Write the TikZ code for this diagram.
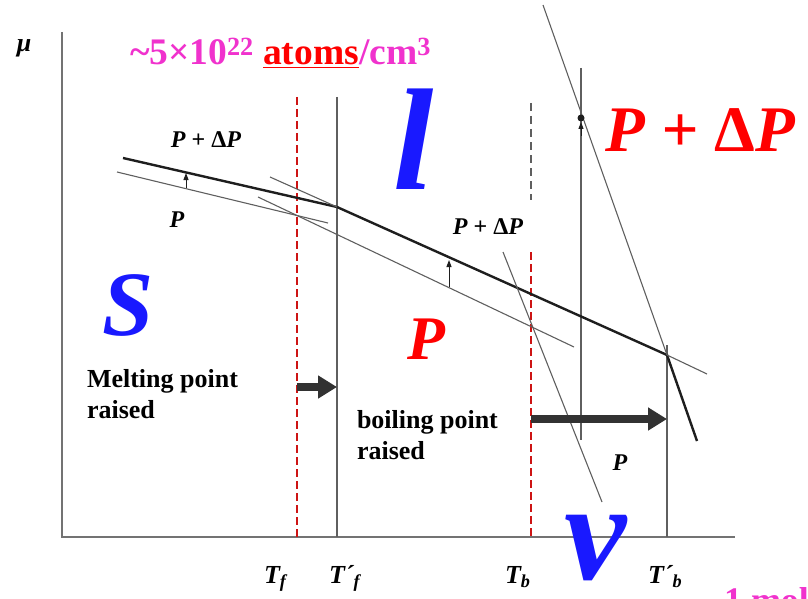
\documentclass[tikz,border=0pt]{standalone}
\usepackage{fontspec}
\setmainfont{Liberation Serif}
\usetikzlibrary{arrows.meta}
\definecolor{colorblue}{RGB}{25,25,255}
\definecolor{colorred}{RGB}{255,0,0}
\definecolor{colorpink}{RGB}{240,50,205}
\definecolor{colordash}{RGB}{205,20,20}
\definecolor{colorline}{RGB}{30,30,30}
\definecolor{colorthin}{RGB}{95,95,95}
\definecolor{colorarrow}{RGB}{50,50,50}
\newcommand{\bi}[1]{\textbf{\textit{#1}}}
\newcommand{\fsz}[1]{\fontsize{#1}{#1}\selectfont}

\begin{document}
\begin{tikzpicture}[x=1pt,y=-1pt,every node/.style={inner sep=0pt, outer sep=0pt},
  axis/.style={color=gray!90!black, line width=1.3pt},
  curve/.style={color=colorline, line width=2.4pt},
  metaline/.style={color=colorthin, line width=1.1pt},
  redline/.style={color=colordash, line width=2pt, dash pattern=on 8pt off 4pt},
  fatarrow/.style={color=colorarrow, line width=8pt, -{Triangle[length=19pt,width=22pt]}},
  tinyarrow/.style={color=colorline, line width=1pt, -{Triangle[length=7pt,width=5pt]}},
  lab/.style={font=\bfseries\itshape\fsz{24}},
  tlab/.style={font=\bfseries\itshape\fsz{26}, anchor=base west},
  note/.style={font=\bfseries\fontsize{26}{31}\selectfont, align=left, anchor=north west},
  bigletter/.style={font=\bfseries\itshape\fsz{#1}}]

\useasboundingbox (0,0) rectangle (808,599);

% axes
\coordinate (origin) at (62,537);
\coordinate (mutop) at (62,32);
\coordinate (xend) at (735,537);
\draw[axis] (mutop) -- (origin) -- (xend);
\node[font=\bfseries\itshape\fsz{26}] (mu) at (24,48) {μ};

% transition temperatures
\coordinate (tf top) at (297,97);    \coordinate (tf bot) at (297,537);
\coordinate (tfp top) at (337,97);   \coordinate (tfp bot) at (337,537);
\coordinate (tb gray) at (531,103);  \coordinate (tb gap) at (531,200);
\coordinate (tb top) at (531,252);   \coordinate (tb bot) at (531,537);
\coordinate (mid top) at (581,68);   \coordinate (mid bot) at (581,440);
\coordinate (tbp top) at (667,345);  \coordinate (tbp bot) at (667,537);
\draw[redline] (tf top) -- (tf bot);
\draw[metaline] (tfp top) -- (tfp bot);
\draw[metaline, dash pattern=on 8pt off 5pt] (tb gray) -- (tb gap);
\draw[redline] (tb top) -- (tb bot);
\draw[metaline] (mid top) -- (mid bot);
\draw[metaline] (tbp top) -- (tbp bot);

% chemical potential lines
\coordinate (s1) at (123,158);
\coordinate (sl) at (337,207);
\coordinate (lv) at (667,355);
\coordinate (v1) at (697,441);
\draw[curve] (s1) -- (sl) -- (lv) -- (v1);

\coordinate (sP a) at (117,172);  \coordinate (sP b) at (328,223);
\coordinate (lD a) at (270,177);  \coordinate (lD b) at (707,374);
\coordinate (lP a) at (258,197);  \coordinate (lP b) at (574,347);
\coordinate (vP a) at (503,252);  \coordinate (vP b) at (602,502);
\coordinate (vD a) at (543,5);
\draw[metaline] (sP a) -- (sP b);
\draw[metaline] (lD a) -- (sl);
\draw[metaline] (lv) -- (lD b);
\draw[metaline] (lP a) -- (lP b);
\draw[metaline] (vP a) -- (vP b);
\draw[metaline] (vD a) -- (lv);

% pressure shifts
\coordinate (ds a) at (186,188);  \coordinate (ds b) at (186,173);
\coordinate (dl a) at (449,287);  \coordinate (dl b) at (449,260);
\coordinate (dv a) at (581,136);  \coordinate (dv b) at (581,122);
\draw[tinyarrow] (ds a) -- (ds b);
\draw[tinyarrow] (dl a) -- (dl b);
\draw[tinyarrow] (dv a) -- (dv b);
\fill[colorline] (581,118) circle (3.5pt);

\coordinate (fa a) at (297,387);  \coordinate (fa b) at (337,387);
\coordinate (ba a) at (531,419);  \coordinate (ba b) at (667,419);
\draw[fatarrow] (fa a) -- (fa b);
\draw[fatarrow] (ba a) -- (ba b);

% labels
\node[lab] (solid dp) at (206,140) {\bi{P} \textup{+ Δ}\bi{P}};
\node[lab] (solid p) at (177,220) {\bi{P}};
\node[lab] (liquid dp) at (488,227) {\bi{P} \textup{+ Δ}\bi{P}};
\node[lab] (vapor p) at (620,463) {\bi{P}};
\node[note] (melting) at (87,369) {Melting point\\raised};
\node[note] (boiling) at (357,410) {boiling point\\raised};

\node[tlab] (tf) at (264,583) {T\textsubscript{f}};
\node[tlab] (tfp) at (329,583) {T´\textsubscript{f}};
\node[tlab] (tb) at (505,583) {T\textsubscript{b}};
\node[tlab] (tbp) at (648,583) {T´\textsubscript{b}};

\node[bigletter=92, text=colorblue] (solid) at (128,305) {S};
\node[bigletter=145, text=colorblue] (liquid) at (414,139) {l};
\node[bigletter=140, text=colorblue] (vapor) at (596,548) {v};
\node[bigletter=62, text=colorred] (pressure) at (426,339) {P};
\node[bigletter=65, text=colorred] (pressure dp) at (700,130) {P + \textup{Δ}P};

\node[font=\bfseries\fsz{37.5}, text=colorpink, anchor=base west] (density) at (130,65)
  {\textasciitilde5×10\textsuperscript{22} \textcolor{colorred}{\underline{atoms}}/cm\textsuperscript{3}};
\node[font=\bfseries\fsz{36}, text=colorpink, anchor=north west] (mole) at (724,588) {1 mol};
\end{tikzpicture}
\end{document}
